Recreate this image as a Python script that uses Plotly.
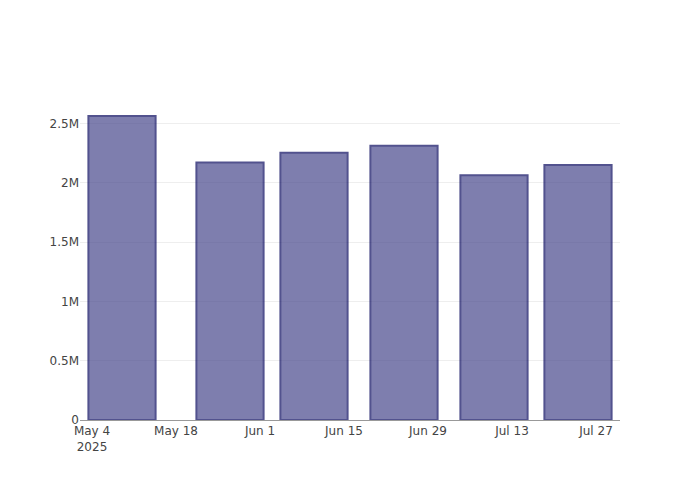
import plotly.graph_objects as go

dates = ["2025-05-09", "2025-05-27", "2025-06-10", "2025-06-25", "2025-07-10", "2025-07-24"]
values = [2562000, 2171000, 2252000, 2311000, 2063000, 2150000]

fig = go.Figure(
    go.Bar(
        x=dates,
        y=values,
        marker=dict(color="rgb(72,72,141)", opacity=0.7,
                    line=dict(color="rgb(10,10,95)", width=2)),
    )
)
fig.update_layout(
    template="none",
    width=692,
    height=492,
    margin=dict(l=72, r=80, t=92, b=80),
    showlegend=False,
    font=dict(family="DejaVu Sans", size=12, color="#444"),
    plot_bgcolor="white",
    paper_bgcolor="white",
)
fig.update_xaxes(showline=True, linecolor="#999", linewidth=1, showgrid=False, ticks="",
                 dtick=14 * 86400000, tick0="2025-05-04")
fig.update_yaxes(zeroline=False, showline=False, ticks="", gridcolor="#eee")
fig.write_html("out.html")
